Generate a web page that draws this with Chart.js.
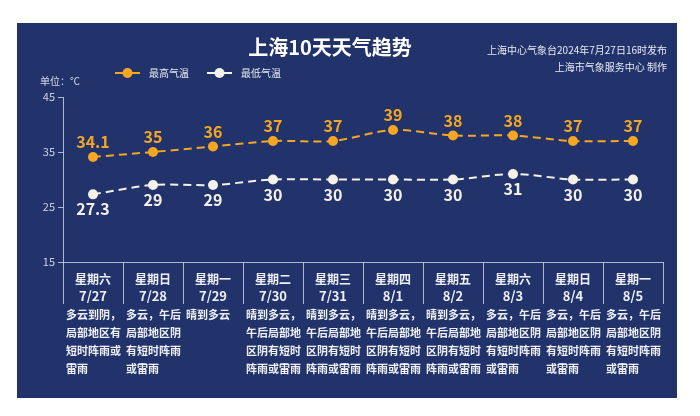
<!DOCTYPE html>
<html><head><meta charset="utf-8">
<script src="https://cdn.jsdelivr.net/npm/chart.js@4"></script>
<style>html,body{margin:0;padding:0;background:#fff;}#wrap{width:700px;height:416px;}</style>
</head><body><div id="wrap"><canvas id="c" width="700" height="416"></canvas></div>
<script>
const categories = ['7/27','7/28','7/29','7/30','7/31','8/1','8/2','8/3','8/4','8/5'];
const weekdays = ['星期六','星期日','星期一','星期二','星期三','星期四','星期五','星期六','星期日','星期一'];
const highTemps = [34.1, 35, 36, 37, 37, 39, 38, 38, 37, 37];
const lowTemps = [27.3, 29, 29, 30, 30, 30, 30, 31, 30, 30];
const descriptions = [
  ['多云到阴，','局部地区有','短时阵雨或','雷雨'],
  ['多云，午后','局部地区阴','有短时阵雨','或雷雨'],
  ['晴到多云'],
  ['晴到多云，','午后局部地','区阴有短时','阵雨或雷雨'],
  ['晴到多云，','午后局部地','区阴有短时','阵雨或雷雨'],
  ['晴到多云，','午后局部地','区阴有短时','阵雨或雷雨'],
  ['晴到多云，','午后局部地','区阴有短时','阵雨或雷雨'],
  ['多云，午后','局部地区阴','有短时阵雨','或雷雨'],
  ['多云，午后','局部地区阴','有短时阵雨','或雷雨'],
  ['多云，午后','局部地区阴','有短时阵雨','或雷雨']
];
const yTicks = [15, 25, 35, 45];
const titleText = '上海10天天气趋势';
const sourceLines = ['上海中心气象台2024年7月27日16时发布','上海市气象服务中心 制作'];
const unitText = '单位：℃';
const seriesNames = ['最高气温','最低气温'];

const FONT = "'Noto Sans CJK SC','Noto Sans',sans-serif";
const BG = '#21336a';
const ORANGE = '#f5a623';
const WHITE = '#f4f1e8';
const LINEC = 'rgba(200,208,228,0.85)';

const decor = {
  id: 'decor',
  beforeDraw(chart) {
    const ctx = chart.ctx;
    ctx.save();
    ctx.fillStyle = '#ffffff';
    ctx.fillRect(0, 0, chart.width, chart.height);
    ctx.fillStyle = BG;
    ctx.fillRect(17, 23, 660, 375);
    ctx.restore();
  },
  afterDraw(chart) {
    const ctx = chart.ctx;
    const xs = chart.scales.x, ys = chart.scales.y;
    const ca = chart.chartArea;
    ctx.save();
    // title
    ctx.fillStyle = '#ffffff';
    ctx.textAlign = 'center';
    ctx.textBaseline = 'middle';
    ctx.font = 'bold 20px ' + FONT;
    ctx.fillText(titleText, 330, 47);
    // source
    ctx.font = '10px ' + FONT;
    ctx.textAlign = 'right';
    ctx.fillStyle = '#e6e9f2';
    ctx.fillText(sourceLines[0], 667, 50);
    ctx.fillText(sourceLines[1], 667, 67);
    // unit
    ctx.textAlign = 'left';
    ctx.fillStyle = '#d8dce8';
    ctx.fillText(unitText, 40, 81);
    // legend
    const leg = [[115, ORANGE, seriesNames[0]], [207, WHITE, seriesNames[1]]];
    leg.forEach(([lx, col, name]) => {
      ctx.strokeStyle = col; ctx.lineWidth = 2;
      ctx.beginPath(); ctx.moveTo(lx, 73); ctx.lineTo(lx + 25, 73); ctx.stroke();
      ctx.fillStyle = col;
      ctx.beginPath(); ctx.arc(lx + 12.5, 73, 5, 0, Math.PI * 2); ctx.fill();
      ctx.fillStyle = '#e6e9f2';
      ctx.font = '10px ' + FONT;
      ctx.textAlign = 'left';
      ctx.fillText(name, lx + 34, 73);
    });
    // data labels
    const mh = chart.getDatasetMeta(0), ml = chart.getDatasetMeta(1);
    ctx.textAlign = 'center';
    ctx.font = 'bold 16px ' + FONT;
    mh.data.forEach((p, i) => {
      ctx.fillStyle = ORANGE;
      ctx.fillText(String(highTemps[i]), p.x, p.y - 15);
    });
    ml.data.forEach((p, i) => {
      ctx.fillStyle = WHITE;
      ctx.fillText(String(lowTemps[i]), p.x, p.y + 15);
    });
    // table
    const step = xs.getPixelForValue(1) - xs.getPixelForValue(0);
    const bottom = ca.bottom;
    ctx.strokeStyle = LINEC; ctx.lineWidth = 1;
    for (let i = 0; i <= categories.length; i++) {
      const bx = Math.round(xs.getPixelForValue(0) - step / 2 + i * step) + 0.5;
      ctx.beginPath(); ctx.moveTo(bx, bottom); ctx.lineTo(bx, bottom + 42); ctx.stroke();
    }
    categories.forEach((c, i) => {
      const cx = xs.getPixelForValue(i);
      ctx.textAlign = 'center';
      ctx.fillStyle = '#eef0f6';
      ctx.font = 'bold 12px ' + FONT;
      ctx.fillText(weekdays[i], cx, bottom + 17);
      ctx.font = 'bold 13px ' + FONT;
      ctx.fillText(c, cx, bottom + 34);
      ctx.textAlign = 'left';
      ctx.font = 'bold 11px ' + FONT;
      const left = cx - step / 2 + 3;
      descriptions[i].forEach((t, j) => {
        ctx.fillText(t, left, bottom + 53 + j * 18);
      });
    });
    ctx.restore();
  }
};

new Chart(document.getElementById('c'), {
  type: 'line',
  data: {
    labels: categories,
    datasets: [
      { label: seriesNames[0], data: highTemps, borderColor: ORANGE, backgroundColor: ORANGE,
        borderWidth: 2, borderDash: [8, 5], tension: 0.3, pointRadius: 5, pointHoverRadius: 5,
        pointBackgroundColor: ORANGE, pointBorderWidth: 0 },
      { label: seriesNames[1], data: lowTemps, borderColor: WHITE, backgroundColor: WHITE,
        borderWidth: 2, borderDash: [8, 5], tension: 0.3, pointRadius: 5, pointHoverRadius: 5,
        pointBackgroundColor: WHITE, pointBorderWidth: 0 }
    ]
  },
  options: {
    responsive: false,
    animation: false,
    events: [],
    layout: { padding: { left: 23, top: 97, right: 37, bottom: 154 } },
    plugins: { legend: { display: false }, title: { display: false }, tooltip: { enabled: false } },
    scales: {
      x: {
        offset: true,
        grid: { display: true, drawOnChartArea: false, drawTicks: false },
        border: { display: true, color: LINEC, width: 1 },
        ticks: { display: false },
        afterFit(s) { s.height = 0; }
      },
      y: {
        min: 15, max: 45,
        afterBuildTicks(s) { s.ticks = yTicks.map(v => ({ value: v })); },
        grid: { display: true, drawOnChartArea: false, drawTicks: true, tickLength: 5, color: LINEC },
        border: { display: true, color: LINEC, width: 1 },
        ticks: { color: '#cdd3e3', font: { size: 11, family: FONT }, padding: 3 },
        afterFit(s) { s.width = 40; }
      }
    }
  },
  plugins: [decor]
});
</script>
</body></html>
